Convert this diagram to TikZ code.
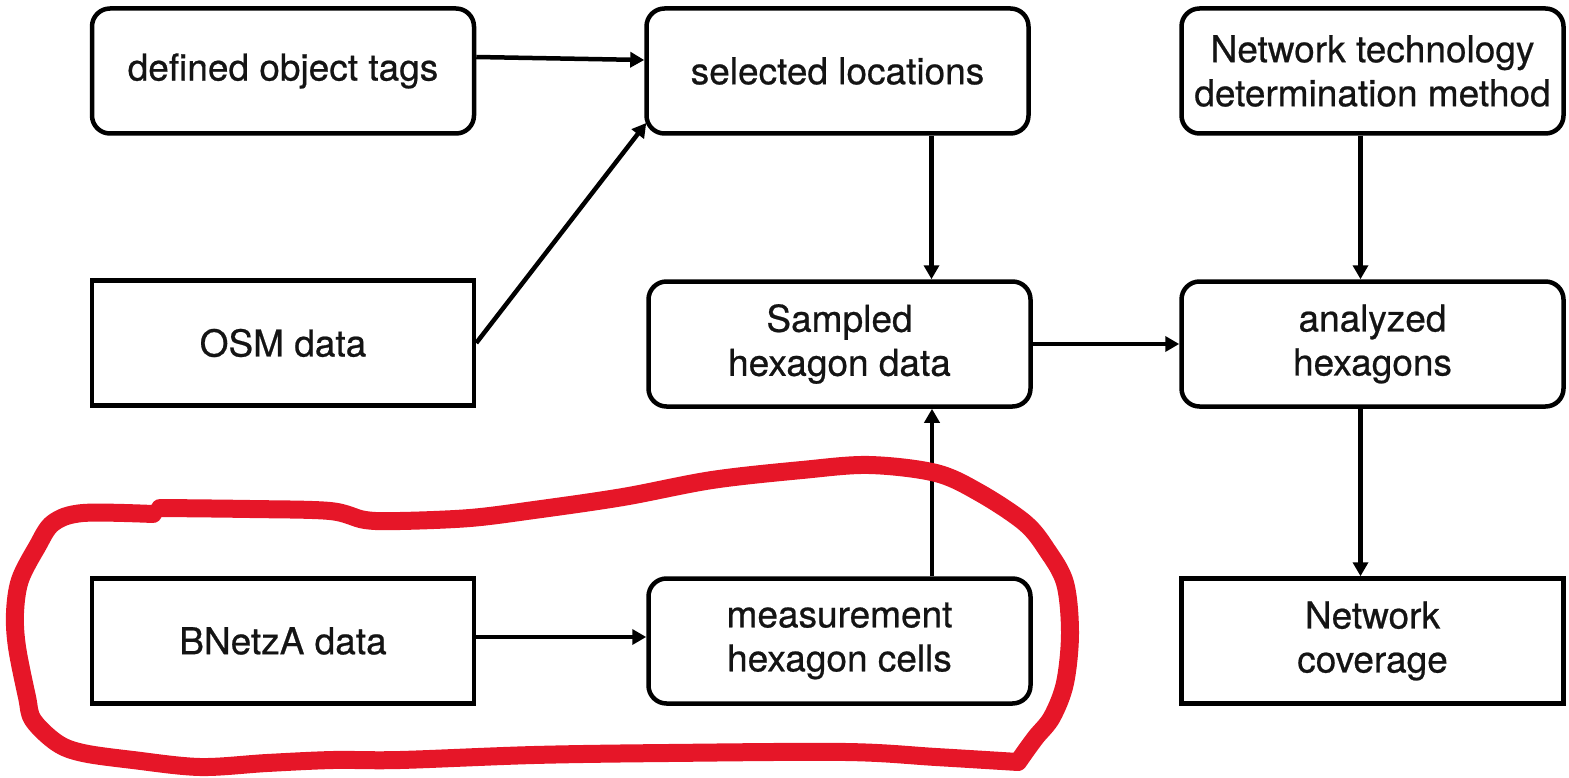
\documentclass[tikz,border=0pt]{standalone}
\usepackage{fontspec}
\setmainfont{TeX Gyre Heros}[FakeBold=0.6]
\usetikzlibrary{arrows.meta}
\definecolor{loopred}{RGB}{230,22,40}
\definecolor{ink}{RGB}{20,20,20}
\tikzset{
  box/.style={draw=black, line width=4.5pt, minimum width=382pt, minimum height=125pt,
    align=center, text=ink, font=\fontsize{37}{44}\selectfont, inner sep=0pt},
  rbox/.style={box, rounded corners=18pt},
  flow/.style={line width=4.5pt, -{Triangle[length=14pt,width=15pt]}},
}
\begin{document}
\begin{tikzpicture}[x=1pt,y=-1pt]
\useasboundingbox (0,0) rectangle (1569,778);

% boxes, top row
\node[rbox] (tags) at (283,71) {defined object tags};
\node[rbox] (sel)  at (837.5,71) {selected locations};
\node[rbox] (ntd)  at (1372.5,71) {Network technology\\determination method};
% middle row
\node[box]  (osm)  at (283,343) {OSM data};
\node[rbox] (samp) at (839.5,344) {Sampled\\hexagon data};
\node[rbox] (anal) at (1372.5,344) {analyzed\\hexagons};
% bottom row
\node[box]  (bnetza) at (283,641) {BNetzA data};
\node[rbox] (meas)   at (839.5,641) {measurement\\hexagon cells};
\node[box]  (cov)    at (1372.5,641) {Network\\coverage};

% connectors
\draw[flow] ([yshift=14pt]tags.east) -- ([yshift=11pt]sel.west);
\draw[flow] (osm.east) -- ([xshift=2pt,yshift=-52pt]sel.west);
\draw[flow] ([xshift=94pt]sel.south) -- ([xshift=94pt]sel.south |- samp.north);
\draw[flow] (samp.east) -- (anal.west);
\draw[flow] ([xshift=-12pt]ntd.south) -- ([xshift=-12pt]ntd.south |- anal.north);
\draw[flow] ([xshift=-12pt]anal.south) -- ([xshift=-12pt]anal.south |- cov.north);
\draw[flow] ([yshift=4pt]bnetza.east) -- ([yshift=4pt]meas.west);
\draw[flow] ([xshift=92.5pt]meas.north) -- ([xshift=92.5pt]meas.north |- samp.south);

% hand-drawn red loop around the measurement inputs
\draw[loopred, line width=18pt, line cap=round, line join=round]
  plot[smooth, tension=0.55] coordinates {
    (160,508) (250,509) (330,511) (365,520) (400,521) (470,518) (534,510)
    (623,497) (712,480) (802,470) (869,465) (936,473) (980,493) (1025,523)
    (1047,550) (1065,583) (1070,633) (1065,683) (1052,717) (1036,737)
    (1025,752)}
  -- (1018,762)
  plot[smooth, tension=0.55] coordinates {
    (1018,762) (936,757) (846,752) (668,753) (534,755) (400,760) (333,760)
    (267,763) (200,767) (133,760) (83,753) (57,743) (33,720) (27,697)
    (17,647) (15,613) (20,580) (37,547) (53,523) (83,513) (153,514)};
\end{tikzpicture}
\end{document}
